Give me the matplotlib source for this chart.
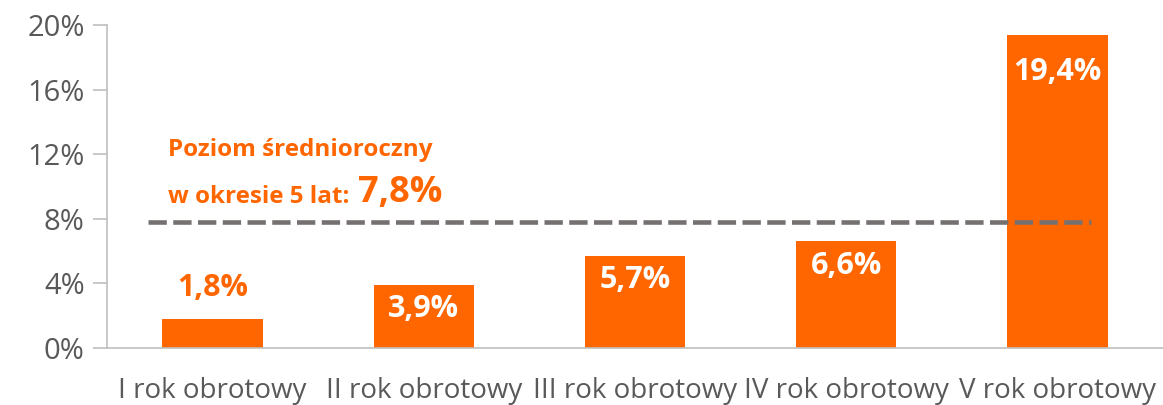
import matplotlib
matplotlib.use("Agg")
import matplotlib.pyplot as plt

categories = ["I rok obrotowy", "II rok obrotowy", "III rok obrotowy", "IV rok obrotowy", "V rok obrotowy"]
values = [1.8, 3.9, 5.7, 6.6, 19.4]
labels = ["1,8%", "3,9%", "5,7%", "6,6%", "19,4%"]
average = 7.8
yticks = [0, 4, 8, 12, 16, 20]

plt.rcParams['font.family'] = ['Open Sans', 'DejaVu Sans']
orange = "#FF6600"
gray_text = "#595959"

fig = plt.figure(figsize=(11.63, 4.05), dpi=100)
ax = fig.add_axes([107/1163, 57/405, 1056/1163, 323/405])
x = list(range(len(categories)))
ax.bar(x, values, width=0.475, color=orange, zorder=2)
ax.set_xlim(-0.5, 4.5)
ax.set_ylim(0, 20)
ax.set_yticks(yticks)
ax.set_yticklabels([f"{t}%" for t in yticks], fontsize=21, color=gray_text)
ax.set_xticks(x)
ax.set_xticklabels(categories, fontsize=20, color=gray_text)
ax.tick_params(axis='x', length=0, pad=21)
ax.tick_params(axis='y', length=10, color="#BFBFBF", width=1.2, pad=6)
for s in ["top", "right"]:
    ax.spines[s].set_visible(False)
for s in ["left", "bottom"]:
    ax.spines[s].set_color("#BFBFBF")
    ax.spines[s].set_linewidth(1.2)

ax.plot([-0.307, 4.16], [average, average], color="#767171", lw=3.3,
        dashes=(4.0, 1.4), zorder=3, dash_capstyle='butt')

for i, (v, lab) in enumerate(zip(values, labels)):
    if i == 0:
        ax.text(i, v + 1.9, lab, ha='center', va='center', fontsize=22, fontweight='bold', color=orange)
    else:
        off = 2.3 if v > 15 else 1.5
        ax.text(i, v - off, lab, ha='center', va='center', fontsize=22, fontweight='bold', color='white', zorder=4)

ax.text(-0.212, 12.25, "Poziom średnioroczny", ha='left', va='center', fontsize=17.5, fontweight='bold', color=orange)
t1 = ax.text(-0.212, 9.35, "w okresie 5 lat:", ha='left', va='center', fontsize=17.5, fontweight='bold', color=orange)
fig.canvas.draw()
bb = t1.get_window_extent()
xd = ax.transData.inverted().transform((bb.x1 + 9, 0))[0]
ax.text(xd, 9.6, "7,8%", ha='left', va='center', fontsize=26, fontweight='bold', color=orange)

fig.savefig("out.png", dpi=100)
